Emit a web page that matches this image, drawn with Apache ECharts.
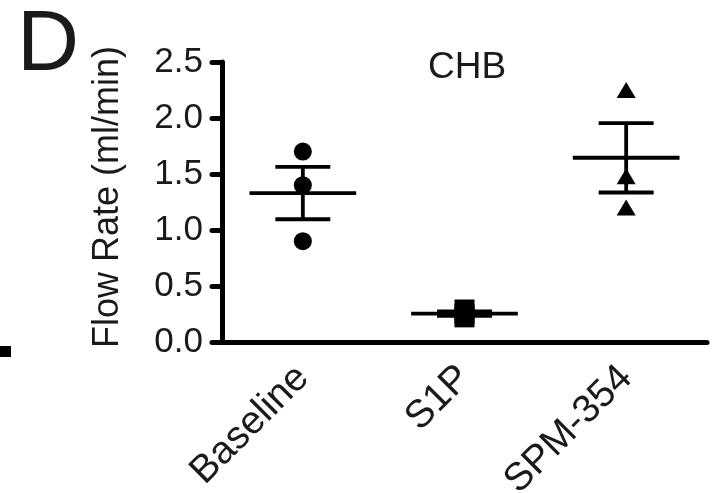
<!DOCTYPE html>
<html>
<head>
<meta charset="utf-8">
<script src="https://cdn.jsdelivr.net/npm/echarts@6/dist/echarts.min.js"></script>
<style>
html,body{margin:0;padding:0;background:#fff;}
#chart{width:718px;height:493px;}
</style>
</head>
<body>
<div id="chart"></div>
<script>
// ---- data ----
const categories = ['Baseline', 'S1P', 'SPM-354'];
const baselineValues = [1.70, 1.40, 0.90];
const s1pValues = [0.29, 0.25, 0.22];
const spmValues = [2.25, 1.48, 1.20];
const means = [1.33, 0.253, 1.645];
const sems = [0.234, 0.02, 0.31];
const yMin = 0, yMax = 2.5, yStep = 0.5;
const panelLabel = 'D';
const chartTitle = 'CHB';
const yAxisTitle = 'Flow Rate (ml/min)';

const FONT = '"Liberation Sans", Arial, Helvetica, sans-serif';
const INK = '#1a1a1a';

const chart = echarts.init(document.getElementById('chart'), null, {renderer: 'canvas'});

function pts(cat, vals) { return vals.map(v => [cat, v]); }

const option = {
  animation: false,
  backgroundColor: '#fff',
  grid: {left: 222, right: 11, top: 62, bottom: 151, containLabel: false, outerBoundsMode: 'none'},
  xAxis: {
    type: 'category',
    data: categories,
    boundaryGap: true,
    axisLine: {lineStyle: {color: '#000', width: 5}},
    axisTick: {alignWithLabel: true, length: 10, lineStyle: {color: '#000', width: 5, cap: 'round'}},
    axisLabel: {rotate: 45, margin: 30, color: INK, fontFamily: FONT, fontSize: 39, interval: 0, hideOverlap: false}
  },
  yAxis: {
    type: 'value',
    min: yMin, max: yMax, interval: yStep,
    name: yAxisTitle,
    nameLocation: 'middle',
    nameRotate: 90,
    nameGap: 96,
    nameTextStyle: {color: INK, fontFamily: FONT, fontSize: 36, padding: [0, 0, 0, 10]},
    axisLine: {show: true, lineStyle: {color: '#000', width: 5}},
    axisTick: {show: true, length: 10, lineStyle: {color: '#000', width: 5, cap: 'round'}},
    splitLine: {show: false},
    axisLabel: {margin: 19, color: INK, fontFamily: FONT, fontSize: 35, formatter: v => v.toFixed(1)}
  },
  graphic: [
    {type: 'text', left: 17, top: 3, style: {text: panelLabel, font: '86px ' + FONT, fill: INK}},
    {type: 'text', x: 467, y: 68, style: {text: chartTitle, font: '37px ' + FONT, fill: INK, align: 'center', verticalAlign: 'middle'}},
    {type: 'rect', shape: {x: 0, y: 346, width: 11, height: 11}, style: {fill: '#000'}}
  ],
  series: [
    {type: 'scatter', data: pts(categories[0], baselineValues), symbol: 'circle', symbolSize: 18, itemStyle: {color: '#000', opacity: 1}, z: 3},
    {type: 'scatter', data: pts(categories[1], s1pValues), symbol: 'rect', symbolSize: 20, itemStyle: {color: '#000', opacity: 1}, z: 3},
    {type: 'scatter', data: pts(categories[2], spmValues), symbol: 'triangle', symbolSize: [19, 16], itemStyle: {color: '#000', opacity: 1}, z: 3},
    {
      type: 'custom',
      z: 4,
      data: means.map((m, i) => [i, m, sems[i]]),
      encode: {x: 0, y: 1},
      renderItem: function (params, api) {
        const idx = api.value(0), m = api.value(1), s = api.value(2);
        const c = api.coord([idx, m]);
        const top = api.coord([idx, m + s]);
        const bot = api.coord([idx, m - s]);
        const band = api.size([1, 0])[0];
        const hw = band * 0.33, cw = band * 0.17;
        const st = {stroke: '#000', lineWidth: 3.8, fill: null};
        return {
          type: 'group',
          children: [
            {type: 'line', shape: {x1: c[0] - hw, y1: c[1], x2: c[0] + hw, y2: c[1]}, style: st},
            {type: 'line', shape: {x1: c[0], y1: top[1], x2: c[0], y2: bot[1]}, style: st},
            {type: 'line', shape: {x1: c[0] - cw, y1: top[1], x2: c[0] + cw, y2: top[1]}, style: st},
            {type: 'line', shape: {x1: c[0] - cw, y1: bot[1], x2: c[0] + cw, y2: bot[1]}, style: st}
          ]
        };
      }
    }
  ]
};
chart.setOption(option);
</script>
</body>
</html>
